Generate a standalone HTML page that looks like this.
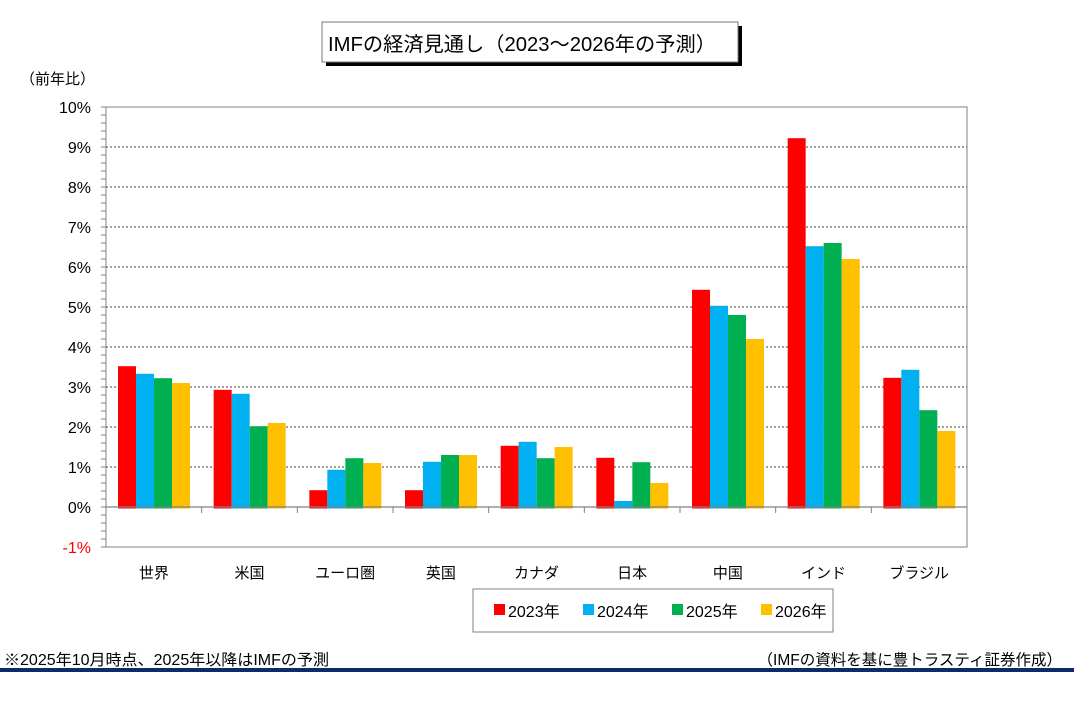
<!DOCTYPE html>
<html><head><meta charset="utf-8"><style>
body{margin:0;background:#fff;}
svg text{font-family:"Liberation Sans","Noto Sans CJK JP",sans-serif;}
</style></head><body>
<svg width="1074" height="707" viewBox="0 0 1074 707" xmlns="http://www.w3.org/2000/svg">
<rect x="326" y="26" width="416" height="40" fill="#000"/>
<rect x="322" y="22" width="416" height="40" fill="#fff" stroke="#777" stroke-width="1"/>
<text x="328" y="51" font-size="20" fill="#000" textLength="388" lengthAdjust="spacingAndGlyphs">IMFの経済見通し（2023～2026年の予測）</text>
<text x="20" y="84" font-size="15" fill="#000">（前年比）</text>
<g id="grid" stroke="#000" stroke-width="0.8" stroke-dasharray="2,2">
<line x1="106" x2="967" y1="107" y2="107"/><line x1="106" x2="967" y1="147" y2="147"/><line x1="106" x2="967" y1="187" y2="187"/><line x1="106" x2="967" y1="227" y2="227"/><line x1="106" x2="967" y1="267" y2="267"/><line x1="106" x2="967" y1="307" y2="307"/><line x1="106" x2="967" y1="347" y2="347"/><line x1="106" x2="967" y1="387" y2="387"/><line x1="106" x2="967" y1="427" y2="427"/><line x1="106" x2="967" y1="467" y2="467"/>
</g>
<rect x="106" y="107" width="861" height="440" fill="none" stroke="#808080" stroke-width="1"/>
<g id="bars"></g>
<line x1="106" x2="967" y1="507" y2="507" stroke="#808080" stroke-width="1.2"/>
<g id="ticks" stroke="#808080" stroke-width="1"></g>
<g font-size="16" text-anchor="end" fill="#000">
<text x="91" y="113">10%</text><text x="91" y="153">9%</text><text x="91" y="193">8%</text><text x="91" y="233">7%</text><text x="91" y="273">6%</text><text x="91" y="313">5%</text><text x="91" y="353">4%</text><text x="91" y="393">3%</text><text x="91" y="433">2%</text><text x="91" y="473">1%</text><text x="91" y="513">0%</text><text x="91" y="553" fill="#f00">-1%</text>
</g>
<g font-size="15" text-anchor="middle" fill="#000" id="cats"></g>
<rect x="473" y="589" width="360" height="43" fill="#fff" stroke="#808080"/>
<g font-size="16">
<rect x="494" y="604" width="11" height="11" fill="#f00"/><text x="508" y="617">2023年</text>
<rect x="583" y="604" width="11" height="11" fill="#00b0f0"/><text x="597" y="617">2024年</text>
<rect x="672" y="604" width="11" height="11" fill="#00b050"/><text x="686" y="617">2025年</text>
<rect x="761" y="604" width="11" height="11" fill="#ffc000"/><text x="775" y="617">2026年</text>
</g>
<text x="4" y="665" font-size="15.5" textLength="325" lengthAdjust="spacingAndGlyphs">※2025年10月時点、2025年以降はIMFの予測</text>
<text x="1062" y="665" font-size="15.5" text-anchor="end">（IMFの資料を基に豊トラスティ証券作成）</text>
<rect x="0" y="668" width="1074" height="4" fill="#0d2a6b"/>
<script>
const ns="http://www.w3.org/2000/svg";
const names=["世界","米国","ユーロ圏","英国","カナダ","日本","中国","インド","ブラジル"];
const vals=[[3.52,3.33,3.22,3.1],[2.93,2.83,2.02,2.1],[0.42,0.93,1.22,1.1],[0.42,1.13,1.3,1.3],[1.53,1.63,1.22,1.5],[1.23,0.15,1.12,0.6],[5.43,5.03,4.8,4.2],[9.22,6.52,6.6,6.2],[3.23,3.43,2.42,1.9]];
const cols=["#f00","#00b0f0","#00b050","#ffc000"];
const gw=861/9;
const b=document.getElementById("bars"),t=document.getElementById("ticks"),c=document.getElementById("cats");
function el(p,n,a,txt){const e=document.createElementNS(ns,n);for(const k in a)e.setAttribute(k,a[k]);if(txt)e.textContent=txt;p.appendChild(e);}
for(let i=0;i<9;i++){const x0=106+i*gw+12;
for(let j=0;j<4;j++){const v=vals[i][j];const h=v*40;el(b,"rect",{x:x0+j*18,y:507-h,width:18,height:h+1.5,fill:cols[j]});}
el(t,"line",{x1:106+(i+1)*gw,x2:106+(i+1)*gw,y1:507,y2:513});
el(c,"text",{x:106+i*gw+gw/2,y:578},names[i]);}
for(let k=0;k<=55;k++){const y=107+k*8;el(t,"line",{x1:101,x2:106,y1:y,y2:y});}
</script>
</svg>
</body></html>
